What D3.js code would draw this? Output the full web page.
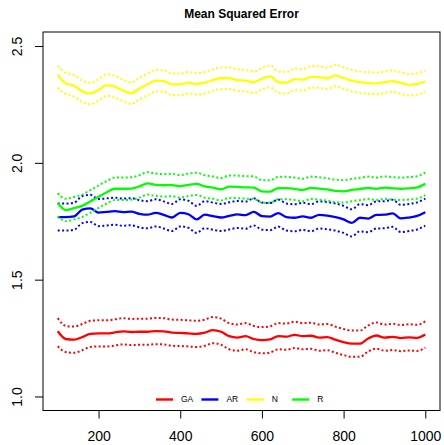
<!DOCTYPE html>
<html>
<head>
<meta charset="utf-8">
<script src="https://cdn.jsdelivr.net/npm/d3@7"></script>
<style>
  html, body { margin: 0; padding: 0; background: #fff; }
  svg { display: block; font-family: "Liberation Sans", Arial, sans-serif; }
</style>
</head>
<body>
<div id="chart"></div>
<script>
// Datos (paso de 20 en el eje x)
const steps = d3.range(100, 1001, 20);

const gaMean = [1.279, 1.246, 1.243, 1.254, 1.268, 1.270, 1.270, 1.274, 1.279, 1.276, 1.277, 1.277, 1.280, 1.279, 1.273, 1.272, 1.270, 1.268, 1.273, 1.284, 1.277, 1.258, 1.252, 1.258, 1.246, 1.241, 1.244, 1.258, 1.256, 1.264, 1.258, 1.260, 1.252, 1.254, 1.243, 1.233, 1.226, 1.226, 1.248, 1.261, 1.252, 1.255, 1.250, 1.253, 1.251, 1.265];
const gaUpper = [1.335, 1.302, 1.299, 1.310, 1.324, 1.326, 1.326, 1.330, 1.335, 1.332, 1.333, 1.333, 1.336, 1.335, 1.329, 1.328, 1.326, 1.324, 1.329, 1.340, 1.333, 1.314, 1.308, 1.314, 1.302, 1.297, 1.300, 1.314, 1.312, 1.320, 1.314, 1.316, 1.308, 1.310, 1.299, 1.289, 1.282, 1.282, 1.304, 1.317, 1.308, 1.311, 1.306, 1.309, 1.307, 1.321];
const gaLower = [1.215, 1.190, 1.187, 1.198, 1.212, 1.214, 1.214, 1.218, 1.223, 1.220, 1.221, 1.221, 1.224, 1.223, 1.217, 1.216, 1.214, 1.212, 1.217, 1.228, 1.221, 1.202, 1.196, 1.202, 1.190, 1.185, 1.188, 1.202, 1.200, 1.208, 1.202, 1.204, 1.196, 1.198, 1.187, 1.177, 1.170, 1.170, 1.192, 1.205, 1.196, 1.199, 1.194, 1.197, 1.195, 1.209];

const arMean = [1.768, 1.768, 1.771, 1.800, 1.805, 1.787, 1.790, 1.793, 1.789, 1.791, 1.782, 1.778, 1.786, 1.777, 1.766, 1.786, 1.780, 1.758, 1.778, 1.772, 1.766, 1.773, 1.779, 1.776, 1.790, 1.772, 1.770, 1.785, 1.768, 1.765, 1.771, 1.765, 1.777, 1.774, 1.768, 1.758, 1.743, 1.765, 1.761, 1.777, 1.778, 1.784, 1.762, 1.766, 1.773, 1.789];
const arUpper = [1.826, 1.826, 1.829, 1.858, 1.863, 1.845, 1.848, 1.851, 1.847, 1.849, 1.840, 1.836, 1.844, 1.835, 1.824, 1.844, 1.838, 1.816, 1.836, 1.830, 1.824, 1.831, 1.837, 1.834, 1.848, 1.830, 1.828, 1.843, 1.826, 1.823, 1.829, 1.823, 1.835, 1.832, 1.826, 1.816, 1.801, 1.823, 1.819, 1.835, 1.836, 1.842, 1.820, 1.824, 1.831, 1.847];
const arLower = [1.710, 1.710, 1.713, 1.742, 1.747, 1.729, 1.732, 1.735, 1.731, 1.733, 1.724, 1.720, 1.728, 1.719, 1.708, 1.728, 1.722, 1.700, 1.720, 1.714, 1.708, 1.715, 1.721, 1.718, 1.732, 1.714, 1.712, 1.727, 1.710, 1.707, 1.713, 1.707, 1.719, 1.716, 1.710, 1.700, 1.685, 1.707, 1.703, 1.719, 1.720, 1.726, 1.704, 1.708, 1.715, 1.731];

const nMean = [2.376, 2.340, 2.330, 2.306, 2.297, 2.312, 2.333, 2.326, 2.310, 2.298, 2.318, 2.336, 2.352, 2.350, 2.336, 2.336, 2.343, 2.338, 2.343, 2.355, 2.362, 2.362, 2.354, 2.352, 2.345, 2.360, 2.370, 2.345, 2.343, 2.358, 2.356, 2.368, 2.367, 2.362, 2.374, 2.363, 2.352, 2.345, 2.342, 2.340, 2.345, 2.350, 2.342, 2.334, 2.338, 2.348];
const nUpper = [2.414, 2.386, 2.376, 2.352, 2.343, 2.358, 2.379, 2.372, 2.356, 2.344, 2.364, 2.382, 2.398, 2.396, 2.382, 2.382, 2.389, 2.384, 2.389, 2.401, 2.408, 2.408, 2.400, 2.398, 2.391, 2.406, 2.416, 2.391, 2.389, 2.404, 2.402, 2.414, 2.413, 2.408, 2.420, 2.409, 2.398, 2.391, 2.388, 2.386, 2.391, 2.396, 2.388, 2.380, 2.384, 2.394];
const nLower = [2.322, 2.294, 2.284, 2.260, 2.251, 2.266, 2.287, 2.280, 2.264, 2.252, 2.272, 2.290, 2.306, 2.304, 2.290, 2.290, 2.297, 2.292, 2.297, 2.309, 2.316, 2.316, 2.308, 2.306, 2.299, 2.314, 2.324, 2.299, 2.297, 2.312, 2.310, 2.322, 2.321, 2.316, 2.328, 2.317, 2.306, 2.299, 2.296, 2.294, 2.299, 2.304, 2.296, 2.288, 2.292, 2.302];

const rMean = [1.828, 1.798, 1.806, 1.816, 1.835, 1.855, 1.874, 1.889, 1.889, 1.890, 1.899, 1.912, 1.906, 1.904, 1.905, 1.900, 1.906, 1.910, 1.899, 1.894, 1.887, 1.898, 1.897, 1.895, 1.894, 1.878, 1.877, 1.892, 1.892, 1.889, 1.884, 1.893, 1.890, 1.886, 1.880, 1.878, 1.884, 1.888, 1.893, 1.889, 1.894, 1.891, 1.889, 1.891, 1.895, 1.910];
const rUpper = [1.870, 1.846, 1.854, 1.864, 1.883, 1.903, 1.922, 1.937, 1.937, 1.938, 1.947, 1.960, 1.954, 1.952, 1.953, 1.948, 1.954, 1.958, 1.947, 1.942, 1.935, 1.946, 1.945, 1.943, 1.942, 1.926, 1.925, 1.940, 1.940, 1.937, 1.932, 1.941, 1.938, 1.934, 1.928, 1.926, 1.932, 1.936, 1.941, 1.937, 1.942, 1.939, 1.937, 1.939, 1.943, 1.958];
const rLower = [1.772, 1.750, 1.758, 1.768, 1.787, 1.807, 1.826, 1.841, 1.841, 1.842, 1.851, 1.864, 1.858, 1.856, 1.857, 1.852, 1.858, 1.862, 1.851, 1.846, 1.839, 1.850, 1.849, 1.847, 1.846, 1.830, 1.829, 1.844, 1.844, 1.841, 1.836, 1.845, 1.842, 1.838, 1.832, 1.830, 1.836, 1.840, 1.845, 1.841, 1.846, 1.843, 1.841, 1.843, 1.847, 1.862];

const seriesNames = ["GA", "AR", "N", "R"];
const seriesColors = ["#ff0000", "#0000ff", "#ffff00", "#00ff00"];
const xTicks = [200, 400, 600, 800, 1000];
const yTicks = [1.0, 1.5, 2.0, 2.5];

const series = [
  { mean: gaMean, upper: gaUpper, lower: gaLower },
  { mean: arMean, upper: arUpper, lower: arLower },
  { mean: nMean, upper: nUpper, lower: nLower },
  { mean: rMean, upper: rUpper, lower: rLower }
].map((s, i) => ({ ...s, name: seriesNames[i], color: seriesColors[i] }));

// Parámetros
const width = 444, height = 445;
const box = { left: 43, right: 440, top: 32, bottom: 410.5 };

const svg = d3.select("#chart").append("svg")
    .attr("width", width)
    .attr("height", height);

// Escalas (con el margen del 4% de R)
const x = d3.scaleLinear().domain([64, 1036]).range([box.left, box.right]);
const y = d3.scaleLinear().domain([0.94, 2.56]).range([box.bottom, box.top]);

const line = vals => d3.line()
    .x((_, i) => x(steps[i]))
    .y(d => y(d))
    .curve(d3.curveMonotoneX)(vals);

// Series
series.forEach(s => {
  const g = svg.append("g");
  [s.upper, s.lower].forEach(b => {
    g.append("path")
      .attr("d", line(b))
      .style("fill", "none")
      .style("stroke", s.color)
      .style("stroke-width", 2)
      .style("stroke-dasharray", "2,2.4");
  });
  g.append("path")
    .attr("d", line(s.mean))
    .style("fill", "none")
    .style("stroke", s.color)
    .style("stroke-width", 2.3)
    .style("stroke-linejoin", "round");
});

// Marco
svg.append("rect")
    .attr("x", box.left)
    .attr("y", box.top)
    .attr("width", box.right - box.left)
    .attr("height", box.bottom - box.top)
    .style("fill", "none")
    .style("stroke", "#000")
    .style("stroke-width", 1);

// Eje X
const xAxis = svg.append("g")
    .attr("transform", `translate(0, ${box.bottom})`)
    .call(d3.axisBottom(x).tickValues(xTicks).tickSize(8).tickPadding(13).tickFormat(d3.format("d")));
xAxis.select(".domain").remove();
xAxis.selectAll("text")
    .style("font-size", "14px")
    .style("font-family", "Liberation Sans, Arial, sans-serif")
    .style("fill", "#000");

// Eje Y
const yAxis = svg.append("g")
    .attr("transform", `translate(${box.left}, 0)`)
    .call(d3.axisLeft(y).tickValues(yTicks).tickSize(8).tickFormat(d3.format(".1f")));
yAxis.select(".domain").remove();
yAxis.selectAll("text")
    .attr("x", null)
    .attr("dy", null)
    .attr("transform", d => `translate(-21, 0) rotate(-90)`)
    .attr("text-anchor", "middle")
    .style("font-size", "14px")
    .style("font-family", "Liberation Sans, Arial, sans-serif")
    .style("fill", "#000");

// Título
svg.append("text")
    .attr("x", (box.left + box.right) / 2)
    .attr("y", 18)
    .attr("text-anchor", "middle")
    .style("font-size", "12px")
    .style("font-weight", "bold")
    .text("Mean Squared Error");

// Leyenda
const legend = svg.append("g")
    .attr("transform", "translate(156, 399.5)");
const item = legend.selectAll("g")
    .data(series)
    .enter().append("g")
      .attr("transform", (_, i) => `translate(${i * 45.4}, 0)`);
item.append("line")
    .attr("x1", 0).attr("x2", 17)
    .style("stroke", d => d.color)
    .style("stroke-width", 2.4);
item.append("text")
    .attr("x", 25)
    .attr("dy", "0.35em")
    .style("font-size", "8.5px")
    .style("fill", "#000")
    .text(d => d.name);
</script>
</body>
</html>
